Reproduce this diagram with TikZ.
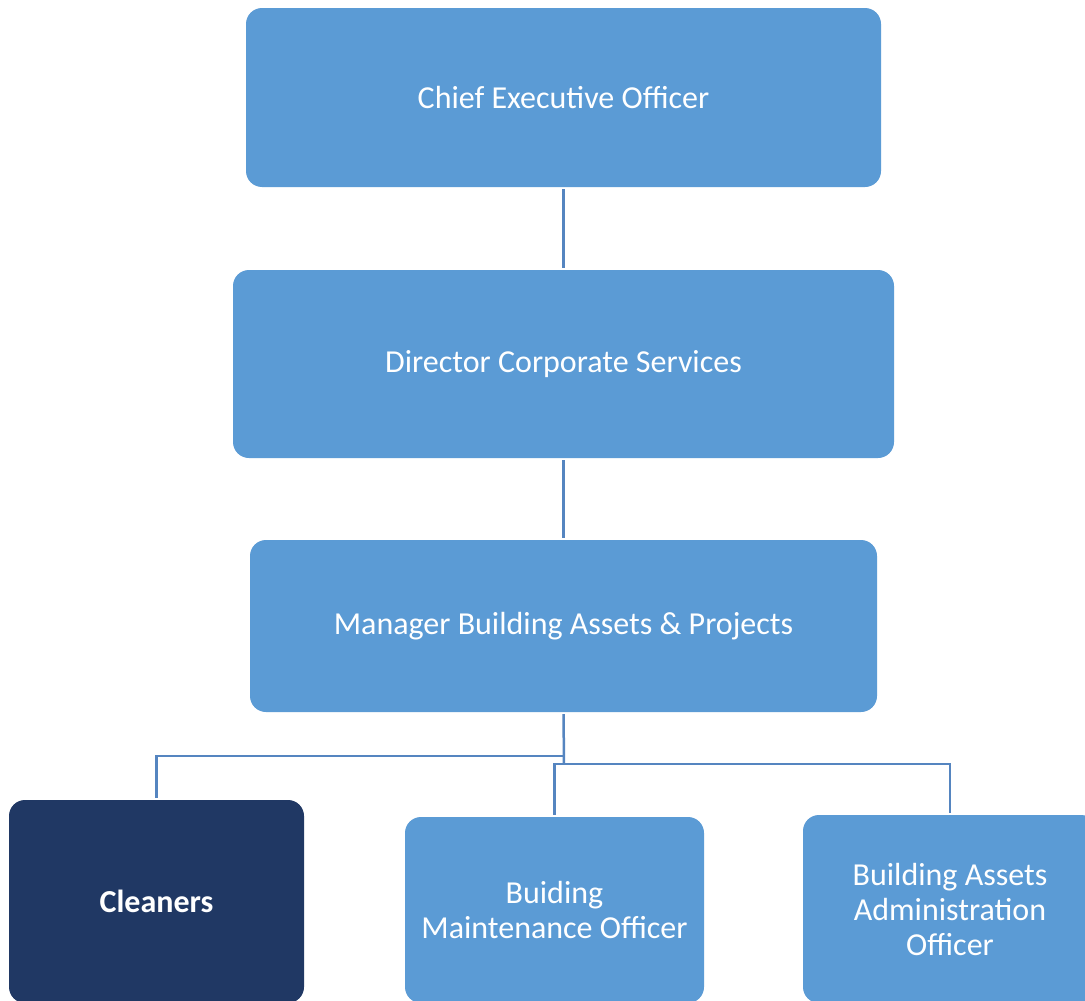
\documentclass[tikz,border=0pt]{standalone}
\usepackage{fontspec}
\setmainfont{Carlito}
\definecolor{boxblue}{HTML}{5B9BD5}
\definecolor{navy}{HTML}{203864}
\definecolor{linkblue}{HTML}{5585C0}
\begin{document}
\begin{tikzpicture}[x=1pt,y=-1pt,
  box/.style={rectangle, rounded corners=16pt, fill=boxblue, text=white,
    align=center, inner sep=0pt,
    font=\fontsize{32}{35}\selectfont},
  darkbox/.style={box, fill=navy, font=\fontsize{32}{35}\selectfont\bfseries},
  conn/.style={draw=linkblue, line width=2.5pt, shorten <=2pt, shorten >=2pt}]
\useasboundingbox (0,0) rectangle (1085,1001);
\clip (0,0) rectangle (1085,1001);
\fill[white] (0,0) rectangle (1085,1001);

% management chain
\node[box, minimum width=635pt, minimum height=179pt] (ceo) at (563.5,97.5) {Chief Executive Officer};
\node[box, minimum width=661pt, minimum height=188pt] (dir) at (563.5,364) {Director Corporate Services};
\node[box, minimum width=627pt, minimum height=172pt] (mgr) at (563.5,626) {Manager Building Assets \& Projects};

% team level
\node[darkbox, minimum width=295pt, minimum height=203pt] (cln) at (156.5,901.5) {Cleaners};
\node[box, minimum width=299pt, minimum height=186pt] (mnt) at (554.5,910) {Buiding\\Maintenance Officer};
\node[box, minimum width=294pt, minimum height=188pt] (adm) at (950,909) {Building Assets\\Administration\\Officer};

% connectors
\draw[conn] (ceo.south) -- (dir.north);
\draw[conn] (dir.south) -- (mgr.north);

\coordinate (hubL) at (564,756);
\coordinate (hubR) at (564,764);
\draw[conn, shorten >=0pt] (mgr.south) -- (hubR);
\draw[conn, shorten <=0pt] (hubL) -| (cln.north);
\draw[conn, shorten <=0pt] (hubR) -| (adm.north);
\draw[conn, shorten <=0pt] (hubR) -| (mnt.north);
\end{tikzpicture}
\end{document}
